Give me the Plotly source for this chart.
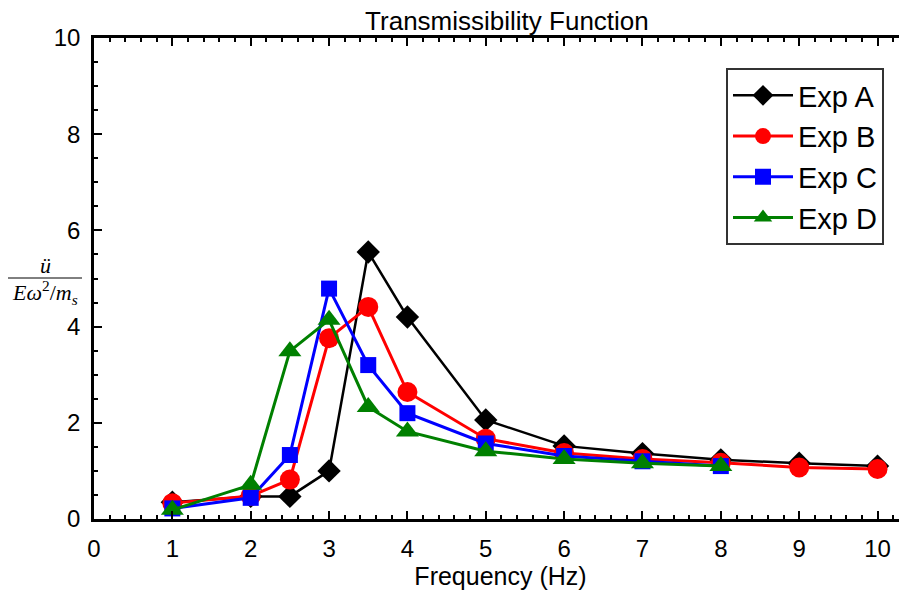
import plotly.graph_objects as go

# frequencies (Hz)
freq_ab = [1, 2, 2.5, 3, 3.5, 4, 5, 6, 7, 8, 9, 10]
freq_cd = [1, 2, 2.5, 3, 3.5, 4, 5, 6, 7, 8]

# transmissibility
exp_a = [0.35, 0.47, 0.47, 1.0, 5.55, 4.2, 2.06, 1.52, 1.36, 1.23, 1.16, 1.1]
exp_b = [0.33, 0.48, 0.82, 3.76, 4.41, 2.64, 1.67, 1.37, 1.25, 1.17, 1.07, 1.04]
exp_c = [0.22, 0.44, 1.33, 4.79, 3.2, 2.2, 1.57, 1.31, 1.2, 1.1]
exp_d = [0.19, 0.71, 3.49, 4.14, 2.33, 1.82, 1.41, 1.25, 1.16, 1.1]

names = ["Exp A", "Exp B", "Exp C", "Exp D"]
colors = ["black", "#ff0000", "#0000ff", "#008000"]
symbols = ["diamond", "circle", "square", "triangle-up"]
sizes = [18, 20, 16, 20]
widths = [2.5, 3, 3, 3]

FONT = "Liberation Sans, Arial, sans-serif"
SERIF = "Liberation Serif, Times New Roman, serif"

# the page body adds an 8px margin, so the figure is a bit smaller
W, H = 899, 592
ML, MT, MB = 86, 30, 81

fig = go.Figure()
series = [(freq_ab, exp_a), (freq_ab, exp_b), (freq_cd, exp_c), (freq_cd, exp_d)]
for i, (xs, ys) in enumerate(series):
    fig.add_trace(go.Scatter(
        x=xs, y=ys, name=names[i], mode="lines+markers",
        line=dict(color=colors[i], width=widths[i]),
        marker=dict(symbol=symbols[i], size=sizes[i], color=colors[i]),
    ))

fig.update_layout(
    width=W, height=H,
    margin=dict(l=ML, r=0, t=MT, b=MB, autoexpand=False),
    plot_bgcolor="white", paper_bgcolor="white",
    font=dict(family=FONT, color="black", size=24),
    title=dict(text="Transmissibility Function", x=0.555, xanchor="center",
               y=1 - 13 / H, yanchor="middle", font=dict(size=26)),
    showlegend=True,
    legend=dict(x=(718 - ML) / (W - ML), y=1 - (60 - MT) / (H - MT - MB),
                xanchor="left", yanchor="top",
                bordercolor="#333333", borderwidth=2, bgcolor="white",
                font=dict(size=29), itemwidth=60),
)

fig.update_xaxes(
    range=[0, 10.376], dtick=1, tick0=0,
    showline=True, linecolor="black", linewidth=2.5, mirror="ticks",
    ticks="inside", ticklen=8, tickwidth=2, tickcolor="black",
    minor=dict(dtick=0.2, ticks="inside", ticklen=4, tickwidth=2, tickcolor="black"),
    showgrid=False, zeroline=False,
    tickfont=dict(size=24), ticklabelstandoff=6,
    title=dict(text="Frequency (Hz)", font=dict(size=25), standoff=2),
)
fig.update_yaxes(
    range=[0, 10], dtick=2, tick0=0,
    showline=True, linecolor="black", linewidth=2.5,
    ticks="inside", ticklen=8, tickwidth=2, tickcolor="black",
    minor=dict(dtick=0.5, ticks="inside", ticklen=4, tickwidth=2, tickcolor="black"),
    showgrid=False, zeroline=False,
    tickfont=dict(size=24), ticklabelstandoff=6,
)

# y label as a fraction (no MathJax available offline); page pixel -> paper
pw, ph = W - ML, H - MT - MB
def to_paper(px, py):
    return (px - 8 - ML) / pw, (H - MB - (py - 8)) / ph

nx, ny = to_paper(45, 265)
fig.add_annotation(x=nx, y=ny, xref="paper", yref="paper", showarrow=False,
                   xanchor="center", yanchor="middle",
                   text="<i>ü</i>", font=dict(family=SERIF, size=22))
dx, dy = to_paper(45, 292)
fig.add_annotation(x=dx, y=dy, xref="paper", yref="paper", showarrow=False,
                   xanchor="center", yanchor="middle",
                   text="<i>E</i><i>ω</i><sup>2</sup>/<i>m</i><sub><i>s</i></sub>",
                   font=dict(family=SERIF, size=22))
x0, ly = to_paper(8, 278)
x1, _ = to_paper(82, 278)
fig.add_shape(type="line", xref="paper", yref="paper", x0=x0, x1=x1, y0=ly, y1=ly,
              line=dict(color="black", width=1))

fig.write_html("out.html")
